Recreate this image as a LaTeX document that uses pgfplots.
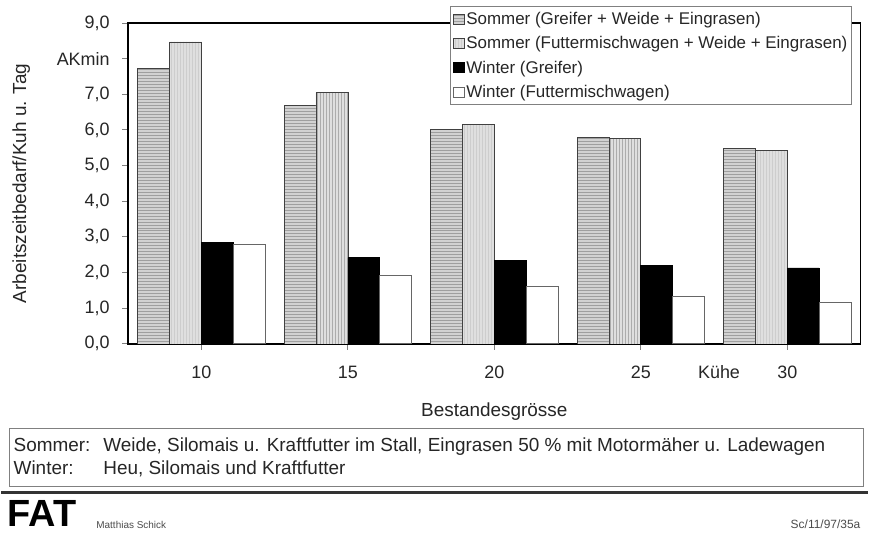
\documentclass[border=0pt]{standalone}
\usepackage{fontspec}
\setmainfont{Liberation Sans}
\usepackage{pgfplots}
\pgfplotsset{compat=1.18}
\usetikzlibrary{patterns}
\begin{document}
\begin{tikzpicture}
\path[fill=white] (0pt,0pt) rectangle (869pt,-535pt);
\begin{axis}[
  at={(127pt,-345pt)}, anchor=south west,
  scale only axis, width=735pt, height=322pt,
  ybar=0pt, bar width=32pt,
  xmin=-0.5, xmax=4.5, ymin=0, ymax=9,
  xtick={0,1,2,3,4}, xticklabels={10,15,20,25,30},
  ytick={0,1,2,3,4,5,6,7,8,9},
  yticklabels={{0,0},{1,0},{2,0},{3,0},{4,0},{5,0},{6,0},{7,0},{AKmin},{9,0}},
  xtick pos=bottom, ytick pos=left,
  tick align=outside, major tick length=6pt,
  tick style={gray, line width=0.8pt},
  axis line style={line width=1.6pt},
  ticklabel style={font=\fontsize{18}{20}\selectfont, text=black!85},
  yticklabel style={xshift=-9pt},
  xticklabel style={yshift=-13pt, text depth=0pt},
  xlabel={Bestandesgrösse},
  xlabel style={at={(axis description cs:0.5,-0.21)}, anchor=center, font=\fontsize{19}{21}\selectfont, text=black!85},
  ylabel={Arbeitszeitbedarf/Kuh u. Tag},
  ylabel style={at={(axis description cs:-0.146,0.5)}, anchor=center, font=\fontsize{19}{21}\selectfont, text=black!85},
  legend style={at={(rel axis cs:0.988,1.053)}, anchor=north east,
    draw=gray, line width=0.8pt, fill=white,
    font=\fontsize{17}{19}\selectfont, text=black!85,
    row sep=6.5pt, inner xsep=2pt, inner ysep=4pt,
    cells={anchor=west}},
  legend image code/.code={\draw[#1, line width=0.5pt] (0pt,-5pt) rectangle (11pt,5pt);},
]
\addplot[fill=gray!35, draw=black!75, line width=0.6pt,
  postaction={pattern=horizontal lines, pattern color=gray!75}]
  coordinates {(0,7.72) (1,6.69) (2,6.02) (3,5.80) (4,5.47)};
\addplot[fill=gray!25, draw=black!75, line width=0.6pt,
  postaction={pattern=vertical lines, pattern color=gray!65}]
  coordinates {(0,8.47) (1,7.05) (2,6.16) (3,5.77) (4,5.42)};
\addplot[fill=black, draw=black, line width=0.6pt]
  coordinates {(0,2.85) (1,2.42) (2,2.35) (3,2.20) (4,2.13)};
\addplot[fill=white, draw=black!60, line width=1pt]
  coordinates {(0,2.79) (1,1.92) (2,1.60) (3,1.32) (4,1.15)};
\legend{Sommer (Greifer + Weide + Eingrasen),
  Sommer (Futtermischwagen + Weide + Eingrasen),
  Winter (Greifer),
  Winter (Futtermischwagen)}
\end{axis}
\node[anchor=base, font=\fontsize{18}{20}\selectfont, text=black!85] at (720pt,-380pt) {Kühe};
% note box
\draw[gray, line width=1pt] (8pt,-430pt) rectangle (865pt,-488pt);
\node[anchor=base west, font=\fontsize{19}{21}\selectfont, text=black!85, inner sep=0pt] at (12pt,-453pt) {Sommer:};
\node[anchor=base west, font=\fontsize{19}{21}\selectfont, text=black!85, inner sep=0pt] at (102pt,-453pt) {Weide, Silomais u. Kraftfutter im Stall, Eingrasen 50 \% mit Motormäher u. Ladewagen};
\node[anchor=base west, font=\fontsize{19}{21}\selectfont, text=black!85, inner sep=0pt] at (12pt,-476pt) {Winter:};
\node[anchor=base west, font=\fontsize{19}{21}\selectfont, text=black!85, inner sep=0pt] at (102pt,-476pt) {Heu, Silomais und Kraftfutter};
% rule
\draw[black!80, line width=3pt] (0pt,-494.5pt) -- (869pt,-494.5pt);
% footer
\node[anchor=base west, font=\fontsize{38}{40}\selectfont\bfseries, inner sep=0pt] at (6pt,-528pt) {FAT};
\node[anchor=base west, font=\fontsize{10}{12}\selectfont, text=black!70, inner sep=0pt] at (95pt,-530pt) {Matthias Schick};
\node[anchor=base east, font=\fontsize{12}{14}\selectfont, text=black!70, inner sep=0pt] at (862pt,-530pt) {Sc/11/97/35a};
\end{tikzpicture}
\end{document}
